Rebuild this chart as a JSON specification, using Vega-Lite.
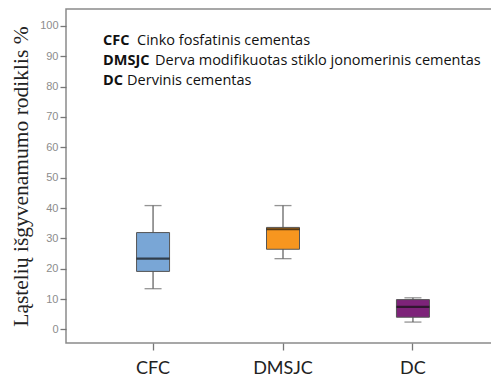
{
  "$schema": "https://vega.github.io/schema/vega-lite/v6.json",
  "autosize": "none",
  "padding": {"left": 66, "top": 9, "right": 0, "bottom": 35},
  "width": 434,
  "height": 334,
  "background": "white",
  "config": {
    "view": {"stroke": "#8a8a8a", "strokeWidth": 1.5},
    "font": "Lato",
    "axisY": {"tickCount": 11, "labelOverlap": false}
  },
  "datasets": {
    "boxes": [
      {"group": "CFC", "min": 13.4, "q1": 19.1, "median": 23.3, "q3": 31.9, "max": 40.8},
      {"group": "DMSJC", "min": 23.3, "q1": 26.4, "median": 33.0, "q3": 33.6, "max": 40.8},
      {"group": "DC", "min": 2.4, "q1": 4.0, "median": 7.4, "q3": 9.8, "max": 10.4}
    ],
    "notes": [
      {"code": "CFC", "desc": "Cinko fosfatinis cementas", "anchor": "CFC", "level": 95.0},
      {"code": "DMSJC", "desc": "Derva modifikuotas stiklo jonomerinis cementas", "anchor": "CFC", "level": 88.4},
      {"code": "DC", "desc": "Dervinis cementas", "anchor": "CFC", "level": 81.8}
    ]
  },
  "layer": [
    {
      "data": {"name": "boxes"},
      "mark": {"type": "rule", "color": "#666666", "strokeWidth": 1.3},
      "encoding": {
        "x": {
          "field": "group", "type": "nominal",
          "scale": {"domain": ["CFC", "DMSJC", "DC"], "paddingInner": 0, "paddingOuter": 0.17},
          "axis": {
            "title": null, "labelAngle": 0, "domain": false, "grid": false,
            "tickSize": 7, "tickColor": "#777777", "tickWidth": 1.3,
            "labelFont": "Lato", "labelFontSize": 18, "labelColor": "#222222", "labelPadding": 9
          }
        },
        "y": {
          "field": "min", "type": "quantitative",
          "scale": {"domain": [-4.5, 105.6], "nice": false, "zero": false},
          "axis": {
            "values": [0, 10, 20, 30, 40, 50, 60, 70, 80, 90, 100],
            "tickCount": 11,
            "labelOverlap": false, "labelFlush": false,
            "domain": false, "grid": false,
            "tickSize": 6, "tickColor": "#777777", "tickWidth": 1.3,
            "labelFont": "Liberation Sans", "labelFontSize": 11, "labelColor": "#8c8c8c", "labelPadding": 2,
            "title": "Ląstelių išgyvenamumo rodiklis %",
            "titleFont": "Liberation Serif", "titleFontSize": 21.5, "titleFontWeight": "normal",
            "titleColor": "#222222", "titlePadding": 7
          }
        },
        "y2": {"field": "max"}
      }
    },
    {
      "data": {"name": "boxes"},
      "mark": {"type": "tick", "color": "#666666", "size": 17, "thickness": 1.3, "orient": "horizontal"},
      "encoding": {
        "x": {"field": "group", "type": "nominal"},
        "y": {"field": "max", "type": "quantitative"}
      }
    },
    {
      "data": {"name": "boxes"},
      "mark": {"type": "tick", "color": "#666666", "size": 17, "thickness": 1.3, "orient": "horizontal"},
      "encoding": {
        "x": {"field": "group", "type": "nominal"},
        "y": {"field": "min", "type": "quantitative"}
      }
    },
    {
      "data": {"name": "boxes"},
      "mark": {"type": "bar", "size": 33, "stroke": "#555555", "strokeWidth": 1},
      "encoding": {
        "x": {"field": "group", "type": "nominal"},
        "y": {"field": "q1", "type": "quantitative"},
        "y2": {"field": "q3"},
        "color": {
          "field": "group", "type": "nominal",
          "scale": {"domain": ["CFC", "DMSJC", "DC"], "range": ["#79a6d6", "#f7961f", "#7d2379"]},
          "legend": null
        },
        "opacity": {"value": 1}
      }
    },
    {
      "data": {"name": "boxes"},
      "mark": {"type": "tick", "color": "#111111", "size": 33, "thickness": 2.2, "orient": "horizontal"},
      "encoding": {
        "x": {"field": "group", "type": "nominal"},
        "y": {"field": "median", "type": "quantitative"}
      }
    },
    {
      "data": {"name": "notes"},
      "mark": {"type": "text", "align": "left", "baseline": "middle", "fontWeight": "bold", "fontSize": 14.5, "font": "Open Sans", "color": "#111111", "dx": -50},
      "encoding": {
        "x": {"field": "anchor", "type": "nominal"},
        "y": {"field": "level", "type": "quantitative"},
        "text": {"field": "code"}
      }
    },
    {
      "data": {"name": "notes"},
      "transform": [{"filter": "datum.code === 'CFC'"}],
      "mark": {"type": "text", "align": "left", "baseline": "middle", "fontSize": 14.5, "font": "Open Sans", "color": "#111111", "dx": -16},
      "encoding": {
        "x": {"field": "anchor", "type": "nominal"},
        "y": {"field": "level", "type": "quantitative"},
        "text": {"field": "desc"}
      }
    },
    {
      "data": {"name": "notes"},
      "transform": [{"filter": "datum.code === 'DMSJC'"}],
      "mark": {"type": "text", "align": "left", "baseline": "middle", "fontSize": 14.5, "font": "Open Sans", "color": "#111111", "dx": 2},
      "encoding": {
        "x": {"field": "anchor", "type": "nominal"},
        "y": {"field": "level", "type": "quantitative"},
        "text": {"field": "desc"}
      }
    },
    {
      "data": {"name": "notes"},
      "transform": [{"filter": "datum.code === 'DC'"}],
      "mark": {"type": "text", "align": "left", "baseline": "middle", "fontSize": 14.5, "font": "Open Sans", "color": "#111111", "dx": -26},
      "encoding": {
        "x": {"field": "anchor", "type": "nominal"},
        "y": {"field": "level", "type": "quantitative"},
        "text": {"field": "desc"}
      }
    }
  ]
}
